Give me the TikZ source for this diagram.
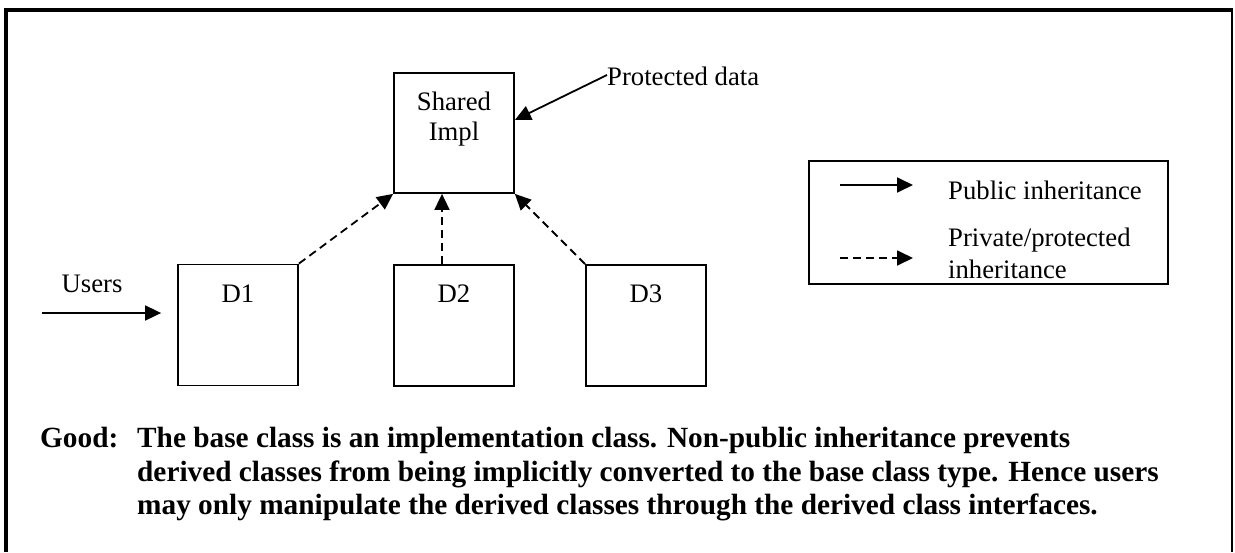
\documentclass[tikz,border=0pt]{standalone}
\usepackage{fontspec}
\setmainfont{Liberation Serif}
\usetikzlibrary{arrows.meta}
\begin{document}
\begin{tikzpicture}[x=1pt,y=-1pt,
  box/.style={draw,line width=1.8pt,rectangle,minimum width=120pt,minimum height=121pt,inner sep=0pt},
  lbl/.style={inner sep=0pt,anchor=base,font=\fontsize{26.7pt}{30pt}\selectfont},
  lblw/.style={lbl,anchor=base west},
  bold/.style={inner sep=0pt,anchor=base west,font=\fontsize{29.3pt}{34pt}\selectfont\bfseries},
  arr/.style={line width=1.8pt,-{Triangle[length=16pt,width=15pt]}},
  darr/.style={arr,dash pattern=on 8pt off 5pt}]
\useasboundingbox (0,0) rectangle (1235,552);
% frame
\draw[line width=4pt] (6,552) -- (6,10) -- (1233,10);
\draw[line width=2.5pt] (1232,9) -- (1232,552);
% boxes
\node[box,minimum height=120pt] (shared) at (454,133) {};
\node[box] (d1) at (238,325) {};
\node[box] (d2) at (454,325.5) {};
\node[box] (d3) at (646,325.5) {};
\node[lbl] (sh1) at (454,110) {Shared};
\node[lbl] (sh2) at (454,140) {Impl};
\node[lbl] (l1) at (238,302) {D1};
\node[lbl] (l2) at (454,302) {D2};
\node[lbl] (l3) at (646,302) {D3};
\node[lbl] (users) at (92,292) {Users};
\node[lblw] (pdt) at (607,85) {Protected data};
% connectors
\coordinate (pd) at (607,75);
\draw[arr] (pd) -- ([yshift=13pt]shared.east);
\coordinate (u) at (42,313);
\draw[arr] (u) -- ([xshift=-16pt,yshift=12pt]d1.west);
\draw[darr] (d1.north east) -- (shared.south west);
\draw[darr] ([xshift=-12pt]d2.north) -- ([xshift=-12pt]shared.south);
\draw[darr] (d3.north west) -- (shared.south east);
% legend
\node[draw,line width=1.8pt,minimum width=359pt,minimum height=123pt,inner sep=0pt] (legend) at (988.5,222.5) {};
\coordinate (pa) at (840,185);
\coordinate (pb) at (913,185);
\coordinate (qa) at (840,258);
\coordinate (qb) at (913,258);
\draw[arr] (pa) -- (pb);
\draw[darr] (qa) -- (qb);
\node[lblw] (t1) at (948,199) {Public inheritance};
\node[lblw] (t2) at (948,246) {Private/protected};
\node[lblw] (t3) at (948,278) {inheritance};
% bottom text
\node[bold] (good) at (40,447) {Good:};
\node[bold] (b1) at (137,447) {The base class is an implementation class. Non-public inheritance prevents};
\node[bold] (b2) at (137,481) {derived classes from being implicitly converted to the base class type. Hence users};
\node[bold] (b3) at (137,514) {may only manipulate the derived classes through the derived class interfaces.};
\end{tikzpicture}
\end{document}
